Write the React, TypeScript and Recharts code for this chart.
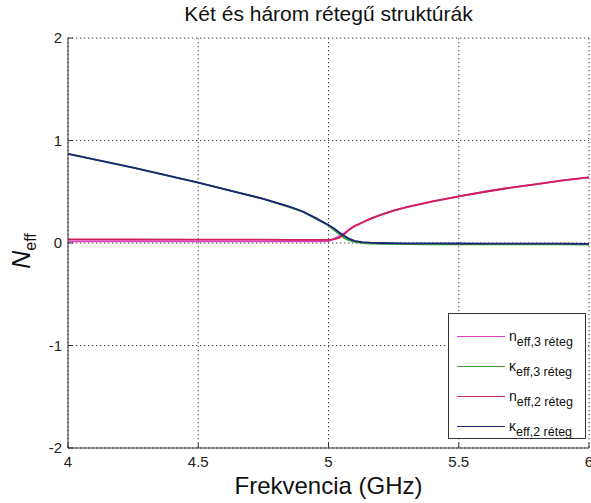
import React from 'react';
import { LineChart, Line, XAxis, YAxis, CartesianGrid, Legend } from 'recharts';

const freq = [4.0, 4.25, 4.5, 4.65, 4.75, 4.85, 4.9, 4.95, 5.0, 5.02, 5.04, 5.06, 5.08, 5.1, 5.13, 5.16, 5.2, 5.25, 5.3, 5.4, 5.5, 5.6, 5.7, 5.8, 5.9, 6.0];
const nEff3 = [0.015, 0.015, 0.016, 0.016, 0.016, 0.017, 0.017, 0.017, 0.018, 0.04, 0.065, 0.095, 0.135, 0.165, 0.2, 0.235, 0.275, 0.315, 0.35, 0.405, 0.455, 0.5, 0.54, 0.575, 0.61, 0.64];
const kEff3 = [0.87, 0.735, 0.59, 0.495, 0.43, 0.35, 0.305, 0.24, 0.17, 0.13, 0.09, 0.05, 0.025, 0.01, 0.0, -0.005, -0.008, -0.01, -0.01, -0.012, -0.012, -0.013, -0.013, -0.014, -0.014, -0.015];
const nEff2 = [0.035, 0.034, 0.033, 0.032, 0.032, 0.031, 0.031, 0.031, 0.03, 0.035, 0.05, 0.085, 0.13, 0.165, 0.2, 0.235, 0.275, 0.315, 0.35, 0.405, 0.455, 0.5, 0.54, 0.575, 0.61, 0.64];
const kEff2 = [0.87, 0.735, 0.59, 0.495, 0.43, 0.355, 0.31, 0.245, 0.175, 0.145, 0.105, 0.07, 0.04, 0.02, 0.008, 0.003, 0.0, -0.002, -0.003, -0.004, -0.005, -0.006, -0.006, -0.007, -0.007, -0.008];

const xTicks = [4, 4.5, 5, 5.5, 6];
const yTicks = [-2, -1, 0, 1, 2];
const xTickLabels = ['4', '4.5', '5', '5.5', '6'];

const title = 'Két és három rétegű struktúrák';
const xLabel = 'Frekvencia (GHz)';

const seriesKeys = ['n3', 'k3', 'n2', 'k2'];
const seriesColors = ['#e23fd0', '#3fa03a', '#d0205a', '#1c2478'];
const seriesSymbols = ['n', 'κ', 'n', 'κ'];
const seriesSubs = ['eff,3 réteg', 'eff,3 réteg', 'eff,2 réteg', 'eff,2 réteg'];
const seriesValues = [nEff3, kEff3, nEff2, kEff2];

const data = freq.map((f, i) => {
  const row: Record<string, number> = { f };
  seriesKeys.forEach((k, s) => {
    row[k] = seriesValues[s][i];
  });
  return row;
});

const FONT = '"Liberation Sans", Arial, Helvetica, sans-serif';

const YLabel = (props: any) => {
  const vb = props.viewBox || { x: 0, y: 38, width: 68, height: 410 };
  const cx = vb.x + 30;
  const cy = vb.y + vb.height / 2 + 8;
  return (
    <text
      x={cx}
      y={cy}
      transform={`rotate(-90, ${cx}, ${cy})`}
      textAnchor="middle"
      fontFamily={FONT}
      fill="#111"
    >
      <tspan fontSize={25} fontStyle="italic">N</tspan>
      <tspan fontSize={16} dy={6}>eff</tspan>
    </text>
  );
};

const LegendContent = () => (
  <div
    style={{
      width: 138,
      height: 126,
      boxSizing: 'border-box',
      border: '1px solid #333',
      background: '#fff',
      paddingTop: 7,
      fontFamily: FONT,
    }}
  >
    {seriesKeys.map((k, i) => (
      <div key={k} style={{ height: 30, display: 'flex', alignItems: 'center' }}>
        <div style={{ marginLeft: 8, width: 48, height: 0, borderTop: `1.5px solid ${seriesColors[i]}` }} />
        <div style={{ marginLeft: 4, color: '#111', whiteSpace: 'nowrap', lineHeight: '14px' }}>
          <span style={{ fontSize: 14 }}>{seriesSymbols[i]}</span>
          <span style={{ fontSize: 12.5, position: 'relative', top: 5 }}>{seriesSubs[i]}</span>
        </div>
      </div>
    ))}
  </div>
);

export default function App() {
  return (
    <div style={{ position: 'absolute', left: 0, top: 0, width: 591, height: 503, background: '#fff' }}>
      <div
        style={{
          position: 'absolute',
          left: 68,
          width: 521,
          top: 2,
          textAlign: 'center',
          fontFamily: FONT,
          fontSize: 21,
          lineHeight: '24px',
          color: '#111',
          zIndex: 2,
        }}
      >
        {title}
      </div>
      <LineChart
        width={591}
        height={503}
        data={data}
        margin={{ top: 38, right: 2, bottom: 0, left: 0 }}
      >
        <CartesianGrid
          stroke="#444"
          strokeDasharray="1.3 2.7"
          horizontalValues={yTicks}
          verticalValues={xTicks}
        />
        <XAxis
          dataKey="f"
          type="number"
          domain={[4, 6]}
          ticks={xTicks}
          interval={0}
          height={55}
          tickSize={-5}
          tickMargin={13}
          tickFormatter={(v: number) => xTickLabels[xTicks.indexOf(v)] ?? String(v)}
          stroke="#333"
          tick={{ fill: '#222', fontSize: 15, fontFamily: FONT }}
          allowDataOverflow
          label={{ value: xLabel, position: 'insideBottom', offset: 9, fill: '#111', fontSize: 24, fontFamily: FONT }}
        />
        <YAxis
          type="number"
          domain={[-2, 2]}
          ticks={yTicks}
          interval={0}
          width={68}
          tickSize={-5}
          tickMargin={11}
          stroke="#333"
          tick={{ fill: '#222', fontSize: 15, fontFamily: FONT }}
          allowDataOverflow
          label={(p: any) => <YLabel {...p} />}
        />
        {seriesKeys.map((k, i) => (
          <Line
            key={k}
            type="linear"
            dataKey={k}
            name={seriesSubs[i]}
            stroke={seriesColors[i]}
            strokeWidth={1.8}
            dot={false}
            activeDot={false}
            isAnimationActive={false}
          />
        ))}
        <Legend
          layout="vertical"
          align="center"
          verticalAlign="middle"
          content={<LegendContent />}
          wrapperStyle={{ position: 'absolute', left: 448, top: 313, width: 138, height: 126 }}
        />
      </LineChart>
    </div>
  );
}
